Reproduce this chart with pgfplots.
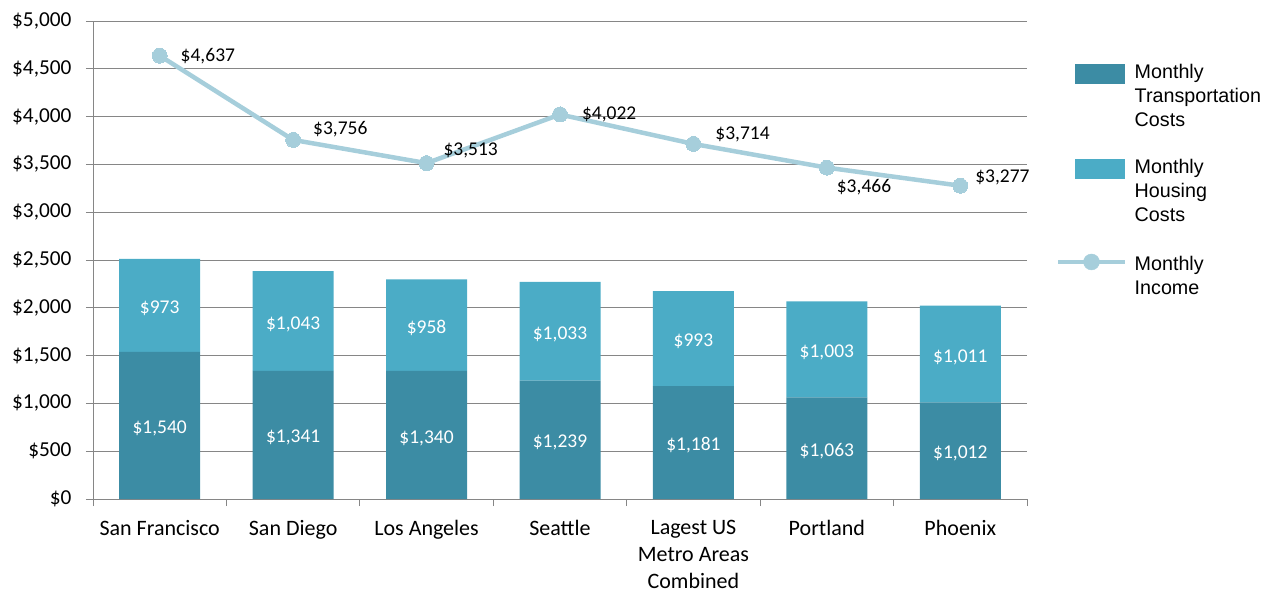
\documentclass[border=0pt]{standalone}
\usepackage{fontspec}
\setmainfont{Carlito}
\newfontfamily\legfont{Liberation Sans}
\usepackage{pgfplots}
\usepackage{pgfplotstable}
\pgfplotsset{compat=1.18}
\definecolor{transC}{RGB}{60,140,164}
\definecolor{houseC}{RGB}{75,172,198}
\definecolor{lineC}{RGB}{166,206,219}
\definecolor{gridC}{RGB}{134,134,134}
\newcommand\ytickfont{\fontsize{21.3bp}{27bp}\selectfont}
\newcommand\xtickfont{\fontsize{22bp}{27bp}\selectfont}
\newcommand\datafont{\fontsize{19.5bp}{23bp}\selectfont}
\newcommand\legendfont{\legfont\fontsize{19.7bp}{24bp}\selectfont}
\pgfplotstableread{
x T H I dx dy
0 1540 973 4637 21 0
1 1341 1043 3756 20 11
2 1340 958 3513 17 13
3 1239 1033 4022 22 0
4 1181 993 3714 22 10
5 1063 1003 3466 10 -20
6 1012 1011 3277 15 8
}\data
\pgfplotsset{
  base/.style={
    scale only axis, width=934bp, height=478bp,
    at={(0,0)}, anchor=south west,
    xmin=-0.5, xmax=6.5, ymin=0, ymax=5000,
    /pgf/number format/.cd, assume math mode=true, fixed, precision=0, 1000 sep={,},
    /pgfplots/.cd,
  }
}
\begin{document}
\begin{tikzpicture}
\begin{axis}[base,
  ybar stacked, bar width=81bp,
  axis x line*=bottom, axis y line*=left,
  axis line style={gridC, line width=0.8bp},
  tick align=outside, major tick length=7bp,
  tick style={gridC, line width=0.8bp},
  ytick={0,500,...,5000},
  yticklabel={\$\pgfmathprintnumber{\tick}},
  ymajorgrids, grid style={gridC, line width=0.8bp},
  xtick={-0.5,0.5,...,6.5}, xticklabels={},
  extra x ticks={0,1,2,3,4,5,6},
  extra x tick labels={San Francisco, San Diego, Los Angeles, Seattle, {Lagest US\\Metro Areas\\Combined}, Portland, Phoenix},
  extra x tick style={major tick length=0pt, grid=none},
  yticklabel style={font=\ytickfont, text=black, xshift=-11bp},
  xticklabel style={font=\xtickfont, text=black, align=center, yshift=-18bp},
  legend cell align=left,
  legend style={at={(axis description cs:1.0311,0.9100)}, anchor=north west,
    draw=none, fill=none, inner sep=0pt, row sep=32.5bp, column sep=7bp,
    font=\legendfont,
    nodes={align=left, inner sep=0pt, text depth=0pt}},
]
\addplot[fill=transC, draw=none,
  point meta=explicit,
  nodes near coords={\$\pgfmathprintnumber{\pgfplotspointmeta}},
  every node near coord/.append style={anchor=center, font=\datafont, text=white, yshift=-3bp},
  legend image code/.code={\fill[transC] (0bp,11bp) rectangle (50bp,31bp);}]
  table[x=x, y=T, meta=T] {\data};
\addlegendentry{Monthly\\Transportation\\Costs}
\addplot[fill=houseC, draw=none,
  point meta=explicit,
  nodes near coords={\$\pgfmathprintnumber{\pgfplotspointmeta}},
  every node near coord/.append style={anchor=center, font=\datafont, text=white, yshift=-3bp},
  legend image code/.code={\fill[houseC] (0bp,11bp) rectangle (50bp,31bp);}]
  table[x=x, y=H, meta=H] {\data};
\addlegendentry{Monthly\\Housing\\Costs}
\addlegendimage{legend image code/.code={
  \draw[lineC, line width=4.5bp] (-17bp,13bp) -- (50bp,13bp);
  \fill[lineC] (16bp,13bp) circle (8bp);}}
\addlegendentry{Monthly\\Income}
\end{axis}
\begin{axis}[base, axis lines=none, xtick=\empty, ytick=\empty, clip=false]
\addplot[lineC, line width=4.5bp, mark=*, mark size=7.5bp,
  mark options={fill=lineC, draw=lineC, line width=0pt},
  point meta=explicit,
  nodes near coords={\$\pgfmathprintnumber{\pgfplotspointmeta}},
  visualization depends on={\thisrow{dx} \as \labdx},
  visualization depends on={\thisrow{dy} \as \labdy},
  every node near coord/.append style={anchor=west, font=\datafont, text=black,
    inner sep=0pt, xshift=\labdx bp, yshift=\labdy bp}]
  table[x=x, y=I, meta=I] {\data};
\end{axis}
\pgfresetboundingbox
\useasboundingbox (-93bp,-91bp) rectangle (1171bp,499bp);
\end{tikzpicture}
\end{document}
